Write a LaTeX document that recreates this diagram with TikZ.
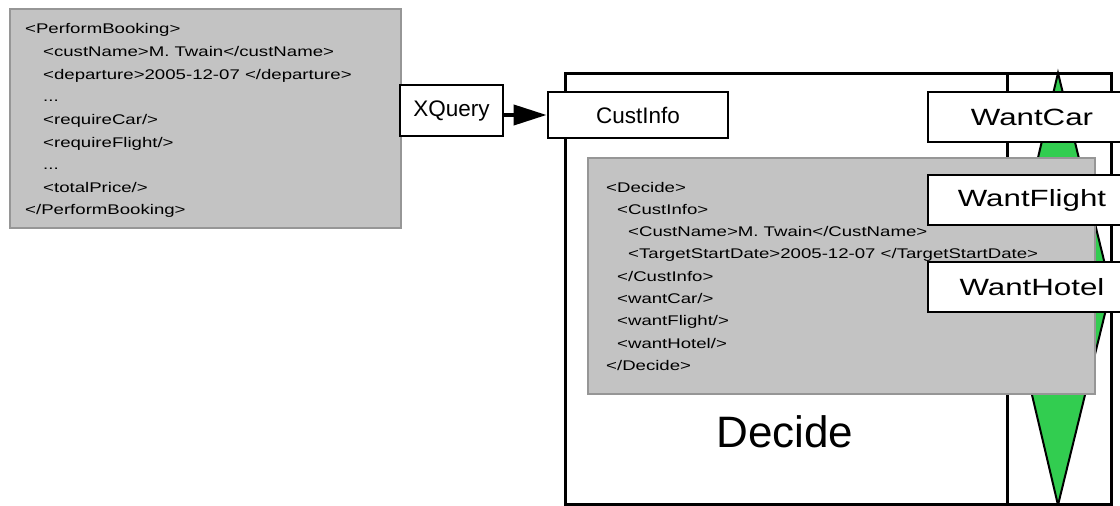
\documentclass[tikz,border=0pt]{standalone}
\usepackage{fontspec}
\setmainfont{Liberation Sans}
\usepackage{graphicx}
\usetikzlibrary{arrows.meta}
\definecolor{boxgray}{RGB}{195,195,195}
\definecolor{edgegray}{RGB}{150,150,150}
\definecolor{gwgreen}{RGB}{50,205,80}
\newcommand{\xstretch}[2]{\scalebox{#1}[1]{#2}}
\newcommand{\tdots}{...}
\begin{document}
\begin{tikzpicture}[x=1pt,y=-1pt,
  xmlbox/.style={fill=boxgray,draw=edgegray,line width=2pt},
  xmlt/.style={anchor=base west,inner sep=0pt,font=\fontsize{14}{16}\selectfont},
  plainbox/.style={draw=black,fill=white,line width=2.8pt,inner sep=0pt},
  wantbox/.style={plainbox,minimum width=208,minimum height=50,font=\fontsize{23.5}{26}\selectfont},
  frame/.style={draw=black,line width=3pt}
]
\useasboundingbox (0,0) rectangle (1120,506);
\clip (0,0) rectangle (1120,506);
\fill[white] (0,0) rectangle (1120,506);

% left XML block
\draw[xmlbox] (10,9) rectangle (401,228);
\node[xmlt] (pb1) at (25,34)    {\xstretch{1.33}{<PerformBooking>}};
\node[xmlt] (pb2) at (43,56.6)  {\xstretch{1.33}{<custName>M. Twain</custName>}};
\node[xmlt] (pb3) at (43,79.2)  {\xstretch{1.33}{<departure>2005-12-07 </departure>}};
\node[xmlt] (pb4) at (43,101.8) {\xstretch{1.33}{\tdots}};
\node[xmlt] (pb5) at (43,124.4) {\xstretch{1.33}{<requireCar/>}};
\node[xmlt] (pb6) at (43,147)   {\xstretch{1.33}{<requireFlight/>}};
\node[xmlt] (pb7) at (43,169.6) {\xstretch{1.33}{\tdots}};
\node[xmlt] (pb8) at (43,192.2) {\xstretch{1.33}{<totalPrice/>}};
\node[xmlt] (pb9) at (25,214.8) {\xstretch{1.33}{</PerformBooking>}};

% XQuery
\node[plainbox,minimum width=103,minimum height=51,font=\fontsize{22.5}{25}\selectfont] (xq) at (451.5,110.5) {XQuery};

% Decide activity frame
\node[frame,minimum width=546,minimum height=431,inner sep=0pt] (decide) at (838,288.5) {};
\coordinate (coltop) at (1007,73);
\coordinate (colbot) at (1007,504);
\draw[line width=3pt] (coltop) -- (colbot);

% gateway diamond
\coordinate (dtop) at (1058,73);
\coordinate (dright) at (1111,289);
\coordinate (dbot) at (1058,505);
\coordinate (dleft) at (1007,289);
\draw[fill=gwgreen,draw=black,line width=2pt] (dtop) -- (dright) -- (dbot) -- (dleft) -- cycle;

% inner XML block
\draw[xmlbox] (588,158) rectangle (1095,394);
\node[xmlt] (dc1) at (606,192)   {\xstretch{1.33}{<Decide>}};
\node[xmlt] (dc2) at (617,214.3) {\xstretch{1.33}{<CustInfo>}};
\node[xmlt] (dc3) at (628,236.6) {\xstretch{1.33}{<CustName>M. Twain</CustName>}};
\node[xmlt] (dc4) at (628,258.9) {\xstretch{1.33}{<TargetStartDate>2005-12-07 </TargetStartDate>}};
\node[xmlt] (dc5) at (617,281.2) {\xstretch{1.33}{</CustInfo>}};
\node[xmlt] (dc6) at (617,303.5) {\xstretch{1.33}{<wantCar/>}};
\node[xmlt] (dc7) at (617,325.8) {\xstretch{1.33}{<wantFlight/>}};
\node[xmlt] (dc8) at (617,348.1) {\xstretch{1.33}{<wantHotel/>}};
\node[xmlt] (dc9) at (606,370.4) {\xstretch{1.33}{</Decide>}};

% CustInfo pin
\node[plainbox,minimum width=180,minimum height=46,font=\fontsize{22.5}{25}\selectfont] (ci) at (638,115) {CustInfo};

% arrow
\draw[line width=4pt,-{Triangle[length=33pt,width=20pt]}] (xq.east |- ci.west) -- (ci.west);

% output pins
\node[wantbox] (wc) at (1032,117) {\xstretch{1.33}{WantCar}};
\node[wantbox] (wf) at (1032,200) {\xstretch{1.33}{WantFlight}};
\node[wantbox] (wh) at (1032,287) {\xstretch{1.33}{WantHotel}};

% label
\node[inner sep=0pt,font=\fontsize{44}{50}\selectfont] (declabel) at (785,432) {Decide};
\end{tikzpicture}
\end{document}
